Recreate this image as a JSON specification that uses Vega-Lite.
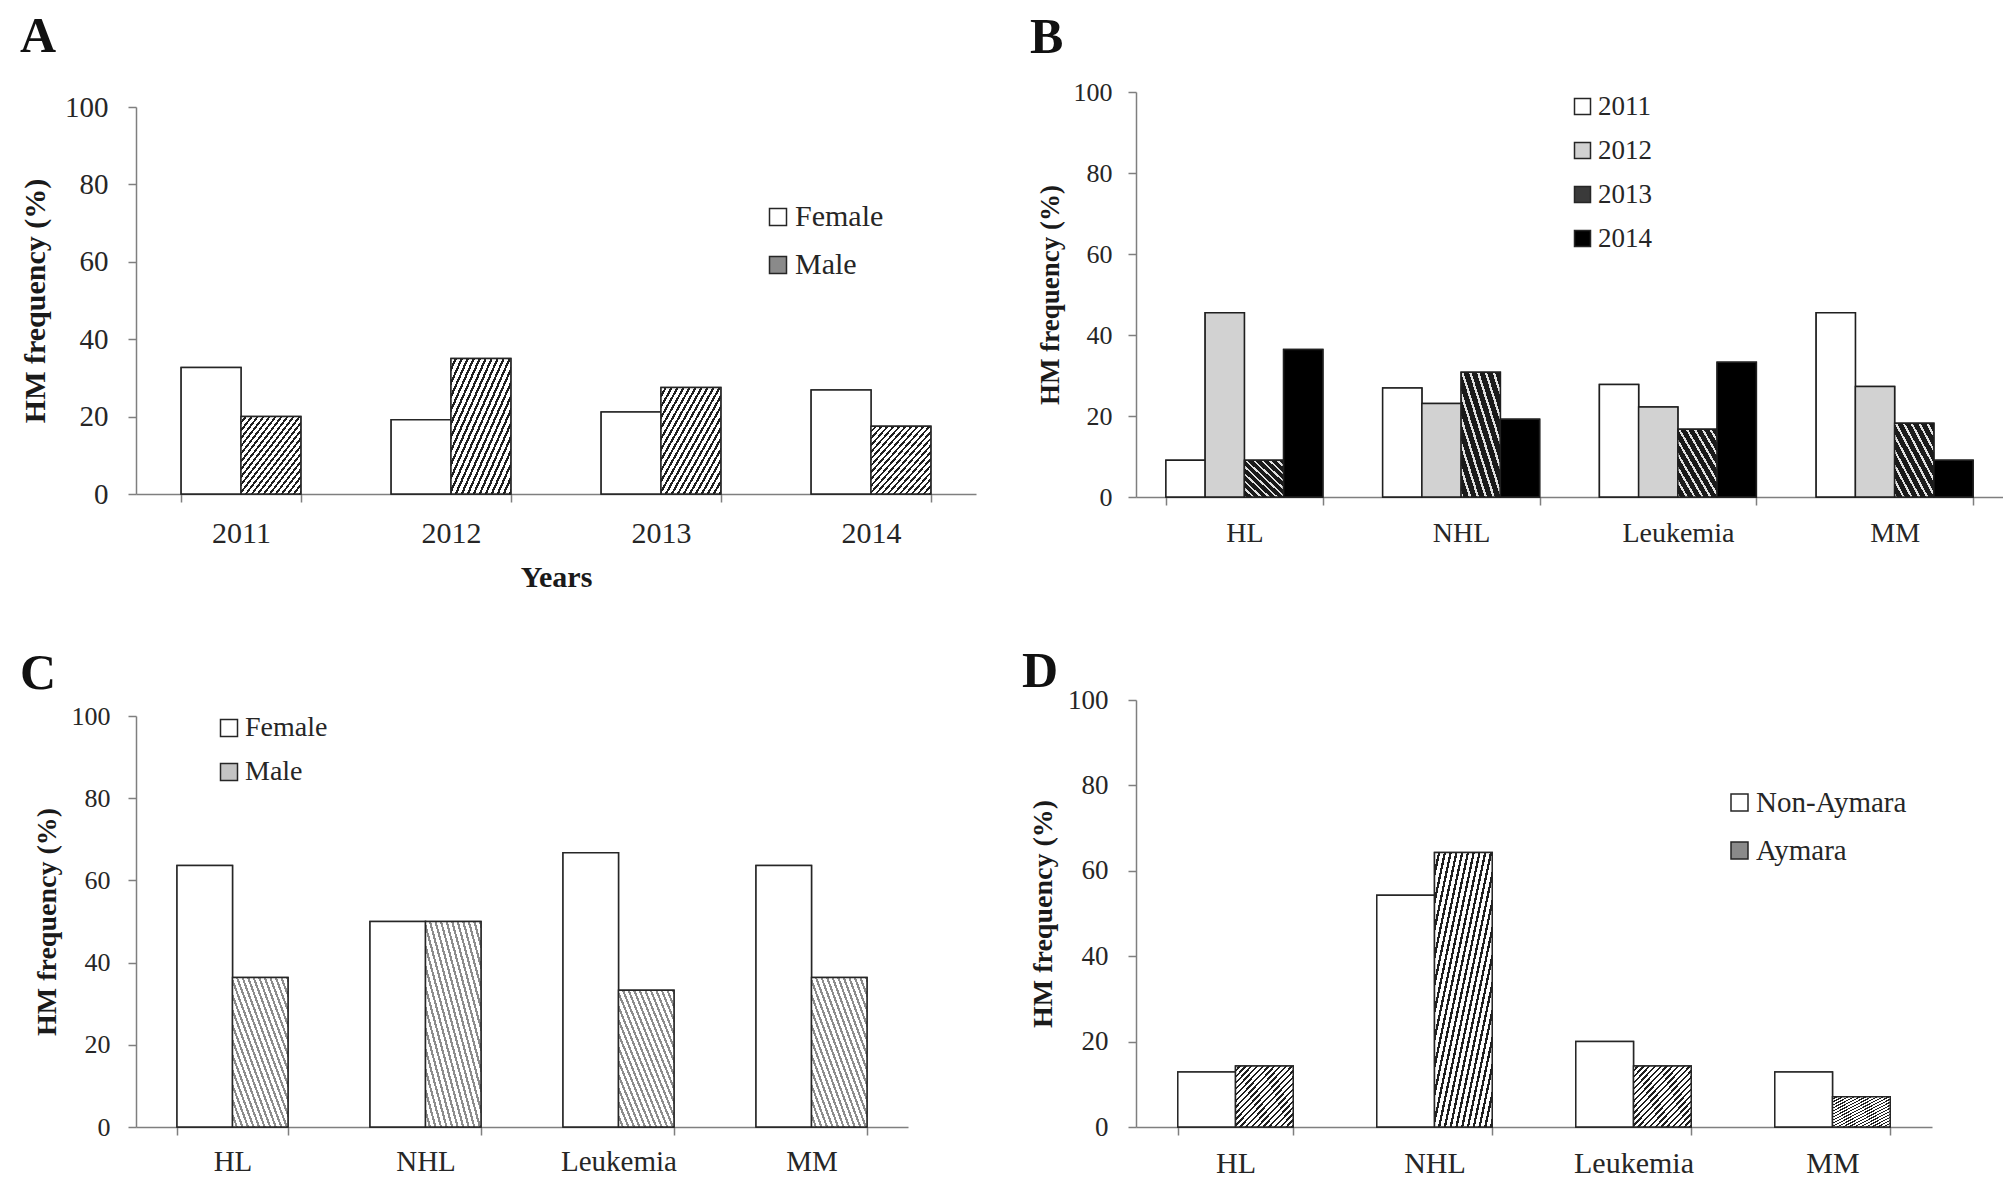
{
"$schema":"https://vega.github.io/schema/vega-lite/v6.json",
"padding":{"left":20,"top":12,"right":0,"bottom":0},
"background":"white",
"columns":2,
"align":"all",
"bounds":"full",
"spacing":{"row":55,"column":19},
"config":{
 "view":{"stroke":null},
 "axis":{"grid":false,"domainColor":"#7f7f7f","tickColor":"#7f7f7f","domainWidth":1.5,"tickWidth":1.5,"tickSize":8,"labelColor":"#262626","titleColor":"#1a1a1a","labelFont":"Liberation Serif","titleFont":"Liberation Serif","titleFontWeight":"bold"},
 "legend":{"title":null,"orient":"none","symbolType":"square","symbolStrokeColor":"#262626","symbolStrokeWidth":1.5,"labelFont":"Liberation Serif","labelColor":"#262626","labelOffset":2,"padding":0,"symbolOpacity":1},
 "title":{"anchor":"start","frame":"group","baseline":"alphabetic","font":"Liberation Serif","fontSize":50,"fontWeight":"bold","color":"#111111"}
},
"resolve":{"scale":{"x":"independent","y":"independent","xOffset":"independent","fill":"independent"},"legend":{"fill":"independent"}},
"concat":[
{
 "width":840,"height":402,
 "title":{"text":"A","dx":-116,"offset":30},
 "data":{"values":[
  {"year":"2011","sex":"Female","value":32.7},{"year":"2011","sex":"Male","value":20.0},
  {"year":"2012","sex":"Female","value":19.2},{"year":"2012","sex":"Male","value":35.0},
  {"year":"2013","sex":"Female","value":21.2},{"year":"2013","sex":"Male","value":27.5},
  {"year":"2014","sex":"Female","value":26.9},{"year":"2014","sex":"Male","value":17.5}]},
 "encoding":{
  "x":{"field":"year","type":"nominal","sort":null,"scale":{"paddingInner":0.43,"paddingOuter":0.215},"axis":{"title":"Years","titleFontSize":30,"titlePadding":14,"labelFontSize":30,"labelAngle":0,"labelPadding":16,"tickBand":"extent"}},
  "xOffset":{"field":"sex","type":"nominal","sort":["Female","Male"]},
  "y":{"field":"value","type":"quantitative","scale":{"domain":[0,100],"range":[402,15],"nice":false},"axis":{"title":"HM frequency (%)","values":[0,20,40,60,80,100],"titleFontSize":30,"titlePadding":14,"labelFontSize":29,"labelPadding":20}}
 },
 "layer":[
  {"mark":{"type":"bar","stroke":"#262626","strokeWidth":1.5},
   "encoding":{"fill":{"field":"sex","type":"nominal","sort":["Female","Male"],"scale":{"domain":["Female","Male"],"range":["#ffffff","#8a8a8a"]},"legend":{"orient":"none","legendX":627,"legendY":110,"symbolSize":289,"labelFontSize":30,"rowPadding":18}}}},
  {"mark":{"type":"bar","stroke":"#262626","strokeWidth":1.5},
   "encoding":{"fill":{"condition":{"test":"datum.sex === 'Male'","value":
   {"gradient":"linear","x1":0,"y1":0,"x2":1,"y2":1,"stops":[{"offset":0,"color":"#ffffff"},{"offset":0.03,"color":"#ffffff"},{"offset":0.03,"color":"#1f1f1f"},{"offset":0.05,"color":"#1f1f1f"},{"offset":0.05,"color":"#ffffff"},{"offset":0.08,"color":"#ffffff"},{"offset":0.08,"color":"#1f1f1f"},{"offset":0.1,"color":"#1f1f1f"},{"offset":0.1,"color":"#ffffff"},{"offset":0.13,"color":"#ffffff"},{"offset":0.13,"color":"#1f1f1f"},{"offset":0.15,"color":"#1f1f1f"},{"offset":0.15,"color":"#ffffff"},{"offset":0.18,"color":"#ffffff"},{"offset":0.18,"color":"#1f1f1f"},{"offset":0.2,"color":"#1f1f1f"},{"offset":0.2,"color":"#ffffff"},{"offset":0.23,"color":"#ffffff"},{"offset":0.23,"color":"#1f1f1f"},{"offset":0.25,"color":"#1f1f1f"},{"offset":0.25,"color":"#ffffff"},{"offset":0.28,"color":"#ffffff"},{"offset":0.28,"color":"#1f1f1f"},{"offset":0.3,"color":"#1f1f1f"},{"offset":0.3,"color":"#ffffff"},{"offset":0.33,"color":"#ffffff"},{"offset":0.33,"color":"#1f1f1f"},{"offset":0.35,"color":"#1f1f1f"},{"offset":0.35,"color":"#ffffff"},{"offset":0.38,"color":"#ffffff"},{"offset":0.38,"color":"#1f1f1f"},{"offset":0.4,"color":"#1f1f1f"},{"offset":0.4,"color":"#ffffff"},{"offset":0.43,"color":"#ffffff"},{"offset":0.43,"color":"#1f1f1f"},{"offset":0.45,"color":"#1f1f1f"},{"offset":0.45,"color":"#ffffff"},{"offset":0.48,"color":"#ffffff"},{"offset":0.48,"color":"#1f1f1f"},{"offset":0.5,"color":"#1f1f1f"},{"offset":0.5,"color":"#ffffff"},{"offset":0.53,"color":"#ffffff"},{"offset":0.53,"color":"#1f1f1f"},{"offset":0.55,"color":"#1f1f1f"},{"offset":0.55,"color":"#ffffff"},{"offset":0.58,"color":"#ffffff"},{"offset":0.58,"color":"#1f1f1f"},{"offset":0.6,"color":"#1f1f1f"},{"offset":0.6,"color":"#ffffff"},{"offset":0.63,"color":"#ffffff"},{"offset":0.63,"color":"#1f1f1f"},{"offset":0.65,"color":"#1f1f1f"},{"offset":0.65,"color":"#ffffff"},{"offset":0.68,"color":"#ffffff"},{"offset":0.68,"color":"#1f1f1f"},{"offset":0.7,"color":"#1f1f1f"},{"offset":0.7,"color":"#ffffff"},{"offset":0.73,"color":"#ffffff"},{"offset":0.73,"color":"#1f1f1f"},{"offset":0.75,"color":"#1f1f1f"},{"offset":0.75,"color":"#ffffff"},{"offset":0.78,"color":"#ffffff"},{"offset":0.78,"color":"#1f1f1f"},{"offset":0.8,"color":"#1f1f1f"},{"offset":0.8,"color":"#ffffff"},{"offset":0.83,"color":"#ffffff"},{"offset":0.83,"color":"#1f1f1f"},{"offset":0.85,"color":"#1f1f1f"},{"offset":0.85,"color":"#ffffff"},{"offset":0.88,"color":"#ffffff"},{"offset":0.88,"color":"#1f1f1f"},{"offset":0.9,"color":"#1f1f1f"},{"offset":0.9,"color":"#ffffff"},{"offset":0.93,"color":"#ffffff"},{"offset":0.93,"color":"#1f1f1f"},{"offset":0.95,"color":"#1f1f1f"},{"offset":0.95,"color":"#ffffff"},{"offset":0.98,"color":"#ffffff"},{"offset":0.98,"color":"#1f1f1f"},{"offset":1,"color":"#1f1f1f"}]}
   },"value":"#ffffff"}}}
 ]
},
{
 "width":867,"height":405,
 "title":{"text":"B","dx":-106,"offset":16},
 "data":{"values":[
  {"type":"HL","year":"2011","value":9.1},{"type":"HL","year":"2012","value":45.5},{"type":"HL","year":"2013","value":9.1},{"type":"HL","year":"2014","value":36.4},
  {"type":"NHL","year":"2011","value":26.9},{"type":"NHL","year":"2012","value":23.1},{"type":"NHL","year":"2013","value":30.8},{"type":"NHL","year":"2014","value":19.2},
  {"type":"Leukemia","year":"2011","value":27.8},{"type":"Leukemia","year":"2012","value":22.2},{"type":"Leukemia","year":"2013","value":16.7},{"type":"Leukemia","year":"2014","value":33.3},
  {"type":"MM","year":"2011","value":45.5},{"type":"MM","year":"2012","value":27.3},{"type":"MM","year":"2013","value":18.2},{"type":"MM","year":"2014","value":9.1}]},
 "encoding":{
  "x":{"field":"type","type":"nominal","sort":null,"scale":{"paddingInner":0.276,"paddingOuter":0.138},"axis":{"title":null,"labelFontSize":28,"labelAngle":0,"labelPadding":14,"tickBand":"extent"}},
  "xOffset":{"field":"year","type":"nominal","sort":["2011","2012","2013","2014"]},
  "y":{"field":"value","type":"quantitative","scale":{"domain":[0,100],"nice":false},"axis":{"title":"HM frequency (%)","values":[0,20,40,60,80,100],"titleFontSize":27,"titlePadding":9,"labelFontSize":26,"labelPadding":16}}
 },
 "layer":[
  {"mark":{"type":"bar","stroke":"#1f1f1f","strokeWidth":1.5},
   "encoding":{"fill":{"field":"year","type":"nominal","sort":["2011","2012","2013","2014"],"scale":{"domain":["2011","2012","2013","2014"],"range":["#ffffff","#d2d2d2","#3a3a3a","#000000"]},"legend":{"orient":"none","legendX":433,"legendY":1,"symbolSize":256,"labelFontSize":27,"rowPadding":16}}}},
  {"mark":{"type":"bar","stroke":"#1f1f1f","strokeWidth":1.5},
   "encoding":{"fill":{"condition":[{"test":"datum.year === '2012'","value":"#d2d2d2"},{"test":"datum.year === '2014'","value":"#000000"},{"test":"datum.year === '2013'","value":
   {"gradient":"linear","x1":0,"y1":1,"x2":1,"y2":0,"stops":[{"offset":0,"color":"#e0e0e0"},{"offset":0.03,"color":"#e0e0e0"},{"offset":0.03,"color":"#1a1a1a"},{"offset":0.1,"color":"#1a1a1a"},{"offset":0.1,"color":"#e0e0e0"},{"offset":0.13,"color":"#e0e0e0"},{"offset":0.13,"color":"#1a1a1a"},{"offset":0.2,"color":"#1a1a1a"},{"offset":0.2,"color":"#e0e0e0"},{"offset":0.23,"color":"#e0e0e0"},{"offset":0.23,"color":"#1a1a1a"},{"offset":0.3,"color":"#1a1a1a"},{"offset":0.3,"color":"#e0e0e0"},{"offset":0.33,"color":"#e0e0e0"},{"offset":0.33,"color":"#1a1a1a"},{"offset":0.4,"color":"#1a1a1a"},{"offset":0.4,"color":"#e0e0e0"},{"offset":0.43,"color":"#e0e0e0"},{"offset":0.43,"color":"#1a1a1a"},{"offset":0.5,"color":"#1a1a1a"},{"offset":0.5,"color":"#e0e0e0"},{"offset":0.53,"color":"#e0e0e0"},{"offset":0.53,"color":"#1a1a1a"},{"offset":0.6,"color":"#1a1a1a"},{"offset":0.6,"color":"#e0e0e0"},{"offset":0.63,"color":"#e0e0e0"},{"offset":0.63,"color":"#1a1a1a"},{"offset":0.7,"color":"#1a1a1a"},{"offset":0.7,"color":"#e0e0e0"},{"offset":0.73,"color":"#e0e0e0"},{"offset":0.73,"color":"#1a1a1a"},{"offset":0.8,"color":"#1a1a1a"},{"offset":0.8,"color":"#e0e0e0"},{"offset":0.83,"color":"#e0e0e0"},{"offset":0.83,"color":"#1a1a1a"},{"offset":0.9,"color":"#1a1a1a"},{"offset":0.9,"color":"#e0e0e0"},{"offset":0.93,"color":"#e0e0e0"},{"offset":0.93,"color":"#1a1a1a"},{"offset":1,"color":"#1a1a1a"}]}
   }],"value":"#ffffff"}}}
 ]
},
{
 "width":772,"height":427,
 "title":{"text":"C","dx":-116,"offset":1},
 "data":{"values":[
  {"type":"HL","sex":"Female","value":63.6},{"type":"HL","sex":"Male","value":36.4},
  {"type":"NHL","sex":"Female","value":50.0},{"type":"NHL","sex":"Male","value":50.0},
  {"type":"Leukemia","sex":"Female","value":66.7},{"type":"Leukemia","sex":"Male","value":33.3},
  {"type":"MM","sex":"Female","value":63.6},{"type":"MM","sex":"Male","value":36.4}]},
 "encoding":{
  "x":{"field":"type","type":"nominal","sort":null,"scale":{"paddingInner":0.425,"paddingOuter":0.2125},"axis":{"title":null,"labelFontSize":29,"labelAngle":0,"labelPadding":12,"tickBand":"extent"}},
  "xOffset":{"field":"sex","type":"nominal","sort":["Female","Male"]},
  "y":{"field":"value","type":"quantitative","scale":{"domain":[0,100],"range":[427,16],"nice":false},"axis":{"title":"HM frequency (%)","values":[0,20,40,60,80,100],"titleFontSize":28,"titlePadding":10,"labelFontSize":26,"labelPadding":18}}
 },
 "layer":[
  {"mark":{"type":"bar","stroke":"#262626","strokeWidth":1.5},
   "encoding":{"fill":{"field":"sex","type":"nominal","sort":["Female","Male"],"scale":{"domain":["Female","Male"],"range":["#ffffff","#c4c4c4"]},"legend":{"orient":"none","legendX":79,"legendY":14,"symbolSize":289,"labelFontSize":28,"rowPadding":16}}}},
  {"mark":{"type":"bar","stroke":"#262626","strokeWidth":1.5},
   "encoding":{"fill":{"condition":{"test":"datum.sex === 'Male'","value":
   {"gradient":"linear","x1":0,"y1":1,"x2":1,"y2":0,"stops":[{"offset":0,"color":"#ffffff"},{"offset":0.03,"color":"#ffffff"},{"offset":0.03,"color":"#8c8c8c"},{"offset":0.05,"color":"#8c8c8c"},{"offset":0.05,"color":"#ffffff"},{"offset":0.08,"color":"#ffffff"},{"offset":0.08,"color":"#8c8c8c"},{"offset":0.1,"color":"#8c8c8c"},{"offset":0.1,"color":"#ffffff"},{"offset":0.13,"color":"#ffffff"},{"offset":0.13,"color":"#8c8c8c"},{"offset":0.15,"color":"#8c8c8c"},{"offset":0.15,"color":"#ffffff"},{"offset":0.18,"color":"#ffffff"},{"offset":0.18,"color":"#8c8c8c"},{"offset":0.2,"color":"#8c8c8c"},{"offset":0.2,"color":"#ffffff"},{"offset":0.23,"color":"#ffffff"},{"offset":0.23,"color":"#8c8c8c"},{"offset":0.25,"color":"#8c8c8c"},{"offset":0.25,"color":"#ffffff"},{"offset":0.28,"color":"#ffffff"},{"offset":0.28,"color":"#8c8c8c"},{"offset":0.3,"color":"#8c8c8c"},{"offset":0.3,"color":"#ffffff"},{"offset":0.33,"color":"#ffffff"},{"offset":0.33,"color":"#8c8c8c"},{"offset":0.35,"color":"#8c8c8c"},{"offset":0.35,"color":"#ffffff"},{"offset":0.38,"color":"#ffffff"},{"offset":0.38,"color":"#8c8c8c"},{"offset":0.4,"color":"#8c8c8c"},{"offset":0.4,"color":"#ffffff"},{"offset":0.43,"color":"#ffffff"},{"offset":0.43,"color":"#8c8c8c"},{"offset":0.45,"color":"#8c8c8c"},{"offset":0.45,"color":"#ffffff"},{"offset":0.48,"color":"#ffffff"},{"offset":0.48,"color":"#8c8c8c"},{"offset":0.5,"color":"#8c8c8c"},{"offset":0.5,"color":"#ffffff"},{"offset":0.53,"color":"#ffffff"},{"offset":0.53,"color":"#8c8c8c"},{"offset":0.55,"color":"#8c8c8c"},{"offset":0.55,"color":"#ffffff"},{"offset":0.58,"color":"#ffffff"},{"offset":0.58,"color":"#8c8c8c"},{"offset":0.6,"color":"#8c8c8c"},{"offset":0.6,"color":"#ffffff"},{"offset":0.63,"color":"#ffffff"},{"offset":0.63,"color":"#8c8c8c"},{"offset":0.65,"color":"#8c8c8c"},{"offset":0.65,"color":"#ffffff"},{"offset":0.68,"color":"#ffffff"},{"offset":0.68,"color":"#8c8c8c"},{"offset":0.7,"color":"#8c8c8c"},{"offset":0.7,"color":"#ffffff"},{"offset":0.73,"color":"#ffffff"},{"offset":0.73,"color":"#8c8c8c"},{"offset":0.75,"color":"#8c8c8c"},{"offset":0.75,"color":"#ffffff"},{"offset":0.78,"color":"#ffffff"},{"offset":0.78,"color":"#8c8c8c"},{"offset":0.8,"color":"#8c8c8c"},{"offset":0.8,"color":"#ffffff"},{"offset":0.83,"color":"#ffffff"},{"offset":0.83,"color":"#8c8c8c"},{"offset":0.85,"color":"#8c8c8c"},{"offset":0.85,"color":"#ffffff"},{"offset":0.88,"color":"#ffffff"},{"offset":0.88,"color":"#8c8c8c"},{"offset":0.9,"color":"#8c8c8c"},{"offset":0.9,"color":"#ffffff"},{"offset":0.93,"color":"#ffffff"},{"offset":0.93,"color":"#8c8c8c"},{"offset":0.95,"color":"#8c8c8c"},{"offset":0.95,"color":"#ffffff"},{"offset":0.98,"color":"#ffffff"},{"offset":0.98,"color":"#8c8c8c"},{"offset":1,"color":"#8c8c8c"}]}
   },"value":"#ffffff"}}}
 ]
},
{
 "width":796,"height":427,
 "title":{"text":"D","dx":-114,"offset":-11},
 "data":{"values":[
  {"type":"HL","group":"Non-Aymara","value":12.9},{"type":"HL","group":"Aymara","value":14.3},
  {"type":"NHL","group":"Non-Aymara","value":54.3},{"type":"NHL","group":"Aymara","value":64.3},
  {"type":"Leukemia","group":"Non-Aymara","value":20.0},{"type":"Leukemia","group":"Aymara","value":14.3},
  {"type":"MM","group":"Non-Aymara","value":12.9},{"type":"MM","group":"Aymara","value":7.1}]},
 "encoding":{
  "x":{"field":"type","type":"nominal","sort":null,"scale":{"paddingInner":0.42,"paddingOuter":0.21},"axis":{"title":null,"labelFontSize":30,"labelAngle":0,"labelPadding":13,"tickBand":"extent"}},
  "xOffset":{"field":"group","type":"nominal","sort":["Non-Aymara","Aymara"]},
  "y":{"field":"value","type":"quantitative","scale":{"domain":[0,100],"nice":false},"axis":{"title":"HM frequency (%)","values":[0,20,40,60,80,100],"titleFontSize":28,"titlePadding":10,"labelFontSize":27,"labelPadding":20}}
 },
 "layer":[
  {"mark":{"type":"bar","stroke":"#262626","strokeWidth":1.5},
   "encoding":{"fill":{"field":"group","type":"nominal","sort":["Non-Aymara","Aymara"],"scale":{"domain":["Non-Aymara","Aymara"],"range":["#ffffff","#8a8a8a"]},"legend":{"orient":"none","legendX":589,"legendY":88,"symbolSize":289,"labelFontSize":29,"rowPadding":18}}}},
  {"mark":{"type":"bar","stroke":"#262626","strokeWidth":1.5},
   "encoding":{"fill":{"condition":{"test":"datum.group === 'Aymara'","value":
   {"gradient":"linear","x1":0,"y1":0,"x2":1,"y2":1,"stops":[{"offset":0,"color":"#ffffff"},{"offset":0.03,"color":"#ffffff"},{"offset":0.03,"color":"#1f1f1f"},{"offset":0.05,"color":"#1f1f1f"},{"offset":0.05,"color":"#ffffff"},{"offset":0.08,"color":"#ffffff"},{"offset":0.08,"color":"#1f1f1f"},{"offset":0.1,"color":"#1f1f1f"},{"offset":0.1,"color":"#ffffff"},{"offset":0.13,"color":"#ffffff"},{"offset":0.13,"color":"#1f1f1f"},{"offset":0.15,"color":"#1f1f1f"},{"offset":0.15,"color":"#ffffff"},{"offset":0.18,"color":"#ffffff"},{"offset":0.18,"color":"#1f1f1f"},{"offset":0.2,"color":"#1f1f1f"},{"offset":0.2,"color":"#ffffff"},{"offset":0.23,"color":"#ffffff"},{"offset":0.23,"color":"#1f1f1f"},{"offset":0.25,"color":"#1f1f1f"},{"offset":0.25,"color":"#ffffff"},{"offset":0.28,"color":"#ffffff"},{"offset":0.28,"color":"#1f1f1f"},{"offset":0.3,"color":"#1f1f1f"},{"offset":0.3,"color":"#ffffff"},{"offset":0.33,"color":"#ffffff"},{"offset":0.33,"color":"#1f1f1f"},{"offset":0.35,"color":"#1f1f1f"},{"offset":0.35,"color":"#ffffff"},{"offset":0.38,"color":"#ffffff"},{"offset":0.38,"color":"#1f1f1f"},{"offset":0.4,"color":"#1f1f1f"},{"offset":0.4,"color":"#ffffff"},{"offset":0.43,"color":"#ffffff"},{"offset":0.43,"color":"#1f1f1f"},{"offset":0.45,"color":"#1f1f1f"},{"offset":0.45,"color":"#ffffff"},{"offset":0.48,"color":"#ffffff"},{"offset":0.48,"color":"#1f1f1f"},{"offset":0.5,"color":"#1f1f1f"},{"offset":0.5,"color":"#ffffff"},{"offset":0.53,"color":"#ffffff"},{"offset":0.53,"color":"#1f1f1f"},{"offset":0.55,"color":"#1f1f1f"},{"offset":0.55,"color":"#ffffff"},{"offset":0.58,"color":"#ffffff"},{"offset":0.58,"color":"#1f1f1f"},{"offset":0.6,"color":"#1f1f1f"},{"offset":0.6,"color":"#ffffff"},{"offset":0.63,"color":"#ffffff"},{"offset":0.63,"color":"#1f1f1f"},{"offset":0.65,"color":"#1f1f1f"},{"offset":0.65,"color":"#ffffff"},{"offset":0.68,"color":"#ffffff"},{"offset":0.68,"color":"#1f1f1f"},{"offset":0.7,"color":"#1f1f1f"},{"offset":0.7,"color":"#ffffff"},{"offset":0.73,"color":"#ffffff"},{"offset":0.73,"color":"#1f1f1f"},{"offset":0.75,"color":"#1f1f1f"},{"offset":0.75,"color":"#ffffff"},{"offset":0.78,"color":"#ffffff"},{"offset":0.78,"color":"#1f1f1f"},{"offset":0.8,"color":"#1f1f1f"},{"offset":0.8,"color":"#ffffff"},{"offset":0.83,"color":"#ffffff"},{"offset":0.83,"color":"#1f1f1f"},{"offset":0.85,"color":"#1f1f1f"},{"offset":0.85,"color":"#ffffff"},{"offset":0.88,"color":"#ffffff"},{"offset":0.88,"color":"#1f1f1f"},{"offset":0.9,"color":"#1f1f1f"},{"offset":0.9,"color":"#ffffff"},{"offset":0.93,"color":"#ffffff"},{"offset":0.93,"color":"#1f1f1f"},{"offset":0.95,"color":"#1f1f1f"},{"offset":0.95,"color":"#ffffff"},{"offset":0.98,"color":"#ffffff"},{"offset":0.98,"color":"#1f1f1f"},{"offset":1,"color":"#1f1f1f"}]}
   },"value":"#ffffff"}}}
 ]
}
]
}
